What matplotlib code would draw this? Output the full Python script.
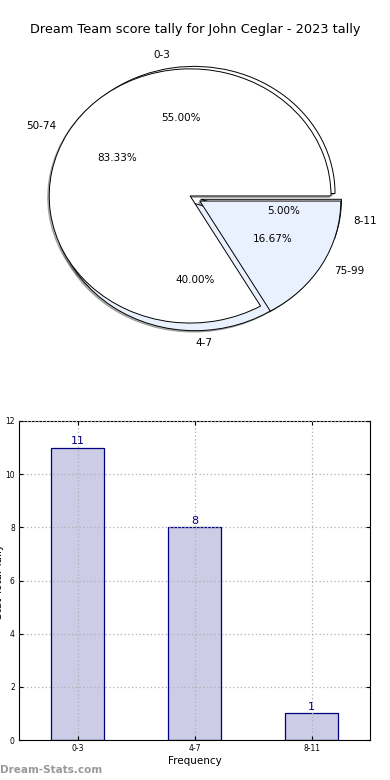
import numpy as np
import matplotlib
matplotlib.use("Agg")
import matplotlib.pyplot as plt

TITLE = "Dream Team score tally for John Ceglar - 2023 tally"

# pie 1: frequency buckets, pie 2: score ranges
freq_labels = ["0-3", "4-7", "8-11"]
freq_counts = [11, 8, 1]
range_labels = ["50-74", "75-99"]
range_counts = [5, 1]

PIE_COLORS = ["white", "#eaf1fe"]
BAR_FACE = "#ccccE6"
BAR_EDGE = "#000080"

W, H = 390, 780
fig = plt.figure(figsize=(W/100, H/100), dpi=100)
fig.text(0.5, 1 - 30/H, TITLE, ha="center", va="center", fontsize=9.3)

# --- pie (two pies drawn on the same axes, stretched) ---
ax = fig.add_axes([9/W, (H-365)/H, 372/W, 333/H])
for vals, labs in [(freq_counts, freq_labels), (range_counts, range_labels)]:
    ax.pie(vals, labels=labs, colors=PIE_COLORS, explode=[0.04]*len(vals),
           shadow=dict(ox=-0.008, oy=-0.008, alpha=0.4), autopct="%1.2f%%",
           wedgeprops=dict(edgecolor="black", linewidth=0.7),
           textprops=dict(fontsize=7.5))
ax.set_aspect("auto")
ax.set_xlim(-1.32, 1.32)
ax.set_ylim(-1.31, 1.31)

# --- bar chart ---
bx = fig.add_axes([19/W, 40/H, 351/W, 319/H])
x = np.arange(len(freq_labels))
bars = bx.bar(x, freq_counts, width=0.45, color=BAR_FACE, edgecolor=BAR_EDGE, linewidth=0.9)
for b, v in zip(bars, freq_counts):
    bx.annotate(str(v), (b.get_x() + b.get_width()/2, v), xytext=(0, 1),
                textcoords="offset points", ha="center", va="bottom",
                color=BAR_EDGE, fontsize=8)
bx.set_xlim(-0.5, 2.5)
bx.set_ylim(0, 12)
bx.set_xticks(x, freq_labels)
bx.set_yticks(range(0, 13, 2))
bx.grid(True, linestyle=(0, (1, 2)), color="#b0b0b0", linewidth=0.9)
bx.set_axisbelow(False)
bx.tick_params(direction="in", top=True, right=True, labelsize=5.5, length=3, pad=3)
bx.set_xlabel("Frequency", fontsize=7.5, labelpad=2)
fig.text(4/W, 1 - 581/H, "Stat Total Tally", rotation=90, ha="right", va="center", fontsize=7.5)

fig.text(0, 1 - 770/H, "Dream-Stats.com", ha="left", va="center", color="#999999",
         fontsize=7.5, fontweight="bold")

fig.savefig("out.png", dpi=100)
